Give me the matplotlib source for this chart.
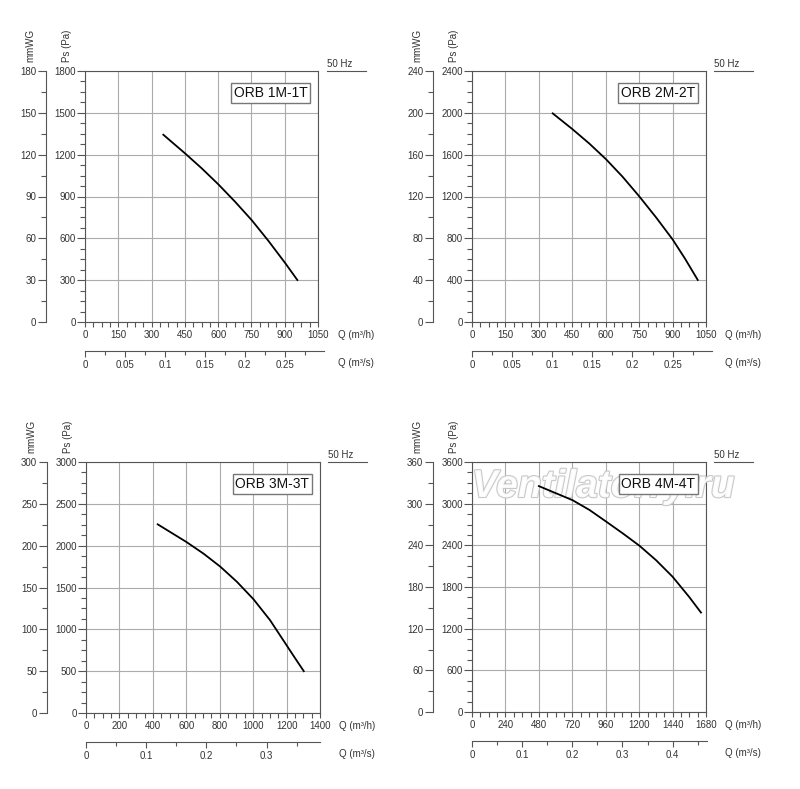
import numpy as np
import matplotlib
matplotlib.use('Agg')
from matplotlib import pyplot as plt
from matplotlib.ticker import MultipleLocator, FuncFormatter
import matplotlib.patheffects as pe

plt.rcParams['font.family'] = ['Liberation Sans', 'DejaVu Sans']

# fan curves: Q in m3/h, Ps in Pa
names = ['ORB 1M-1T', 'ORB 2M-2T', 'ORB 3M-3T', 'ORB 4M-4T']

q1 = [353, 451, 526, 601, 676, 751, 826, 901, 957]
p1 = [1343, 1209, 1102, 987, 863, 731, 583, 425, 301]

q2 = [362, 450, 526, 601, 676, 751, 826, 900, 956, 1013]
p2 = [1995, 1845, 1707, 1557, 1388, 1200, 1000, 790, 605, 402]

q3 = [429, 600, 703, 803, 902, 1002, 1101, 1200, 1251, 1303]
p3 = [2255, 2045, 1905, 1750, 1570, 1360, 1110, 810, 655, 500]

q4 = [480, 722, 843, 961, 1084, 1203, 1321, 1440, 1558, 1644]
p4 = [3253, 3050, 2910, 2745, 2570, 2393, 2187, 1948, 1660, 1432]

# axis ranges and tick steps
q_max = [1050, 1050, 1400, 1680]
q_step = [150, 150, 200, 240]
p_max = [1800, 2400, 3000, 3600]
p_step = [300, 400, 500, 600]
s_step = [0.05, 0.05, 0.1, 0.1]
s_end = [1078, 1078, 1400, 1690]   # m3/h where the m3/s line stops

W, H = 800, 789
fig = plt.figure(figsize=(W / 100, H / 100), dpi=100)

# plot boxes in pixels: left, top, right, bottom
boxes = [(85, 71, 318, 322), (472, 71, 706, 322),
         (86, 462, 320, 713), (472, 462, 706, 712)]

def fx(x):
    return x / W

def fy(y):
    return 1 - y / H

spine_c = '#555555'
txt_c = '#333333'
fs = 7

curves = [(q1, p1), (q2, p2), (q3, p3), (q4, p4)]

for i, (l, t, r, b) in enumerate(boxes):
    q, p = curves[i]
    ax = fig.add_axes([fx(l), fy(b), (r - l) / W, (b - t) / H])
    ax.plot(q, p, color='black', lw=1.3, zorder=4)
    ax.set_xlim(0, q_max[i])
    ax.set_ylim(0, p_max[i])
    ax.xaxis.set_major_locator(MultipleLocator(q_step[i]))
    ax.xaxis.set_minor_locator(MultipleLocator(q_step[i] / 4))
    ax.yaxis.set_major_locator(MultipleLocator(p_step[i]))
    ax.yaxis.set_minor_locator(MultipleLocator(p_step[i] / 4))
    ax.grid(which='major', color='#ababab', lw=0.8)
    ax.set_axisbelow(True)
    for s in ax.spines.values():
        s.set_color(spine_c)
        s.set_linewidth(0.8)
    ax.tick_params(axis='x', which='both', direction='out', length=3.6,
                   width=0.8, color=spine_c, labelsize=fs, labelcolor=txt_c, pad=2)
    ax.tick_params(axis='y', which='major', direction='out', length=6,
                   width=0.8, color=spine_c, labelsize=fs, labelcolor=txt_c, pad=0.5)
    ax.tick_params(axis='y', which='minor', direction='out', length=3.5,
                   width=0.8, color=spine_c)

    ax.text(0.955, 0.94, names[i], transform=ax.transAxes, ha='right', va='top',
            fontsize=10, color='#111111', zorder=6,
            bbox=dict(boxstyle='square,pad=0.2', fc='white', ec='#777777', lw=1))

    # mmWG scale
    am = fig.add_axes([fx(l - 39), fy(b), 1e-5, (b - t) / H])
    am.patch.set_visible(False)
    for k in ['right', 'top', 'bottom']:
        am.spines[k].set_visible(False)
    am.spines['left'].set_color(spine_c)
    am.spines['left'].set_linewidth(0.8)
    am.set_ylim(0, p_max[i] / 10)
    am.set_xticks([])
    am.yaxis.set_major_locator(MultipleLocator(p_step[i] / 10))
    am.yaxis.set_minor_locator(MultipleLocator(p_step[i] / 20))
    am.tick_params(axis='y', which='major', direction='out', length=6, width=0.8,
                   color=spine_c, labelsize=fs, labelcolor=txt_c, pad=1)
    am.tick_params(axis='y', which='minor', direction='out', length=3.5, width=0.8,
                   color=spine_c)

    # m3/s scale
    ws = (r - l) * s_end[i] / q_max[i]
    a_s = fig.add_axes([fx(l), fy(b + 29), ws / W, 1e-5])
    a_s.patch.set_visible(False)
    for k in ['right', 'top', 'left']:
        a_s.spines[k].set_visible(False)
    a_s.spines['bottom'].set_color(spine_c)
    a_s.spines['bottom'].set_linewidth(0.8)
    a_s.set_xlim(0, s_end[i] / 3600)
    a_s.set_yticks([])
    a_s.xaxis.set_major_locator(MultipleLocator(s_step[i]))
    a_s.xaxis.set_minor_locator(MultipleLocator(s_step[i] / 2))
    a_s.xaxis.set_major_formatter(FuncFormatter(lambda v, pos: '%g' % round(v, 3)))
    a_s.tick_params(axis='x', which='major', direction='out', length=4.5, width=0.8,
                    color=spine_c, labelsize=fs, labelcolor=txt_c, pad=2)
    a_s.tick_params(axis='x', which='minor', direction='out', length=3, width=0.8,
                    color=spine_c)

    # labels round the box
    fig.text(fx(l - 55), fy(t - 9), 'mmWG', rotation=90, ha='center', va='bottom',
             fontsize=fs, color=txt_c)
    fig.text(fx(l - 18), fy(t - 9), 'Ps (Pa)', rotation=90, ha='center', va='bottom',
             fontsize=fs, color=txt_c)
    fig.text(fx(l + 253), fy(b + 13), 'Q (m³/h)', ha='left', va='center',
             fontsize=fs, color=txt_c)
    fig.text(fx(l + 253), fy(b + 41), 'Q (m³/s)', ha='left', va='center',
             fontsize=fs, color=txt_c)
    fig.text(fx(l + 242), fy(t - 7), '50 Hz', ha='left', va='center',
             fontsize=fs, color=txt_c)
    fig.add_artist(plt.Line2D([fx(l + 242), fx(l + 281)], [fy(t), fy(t)],
                              color=spine_c, lw=0.8))

    if i == 3:
        wm = ax.text(0.56, 0.9, 'Ventilatorry.ru', transform=ax.transAxes,
                     ha='center', va='center', fontsize=28, fontweight='bold',
                     fontstyle='italic', color='white', alpha=0.9, zorder=3)
        wm.set_path_effects([pe.Stroke(linewidth=1.6, foreground='#c4c4c4'), pe.Normal()])

fig.savefig('out.png', dpi=100)
